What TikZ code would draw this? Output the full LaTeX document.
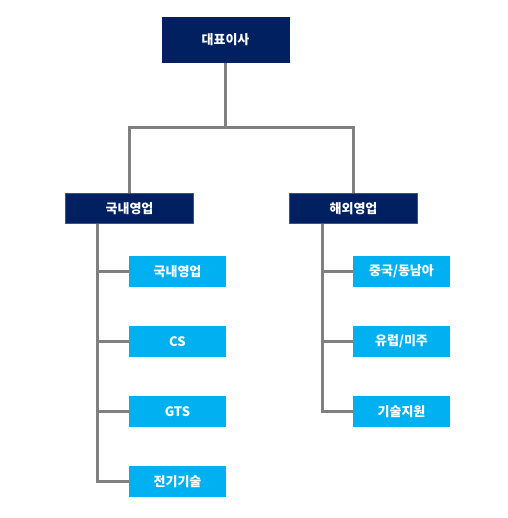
\documentclass[tikz,border=0pt]{standalone}
\usepackage{fontspec}
\setmainfont{Noto Sans CJK KR}
\usepackage{tikz}

\definecolor{navy}{HTML}{002060}
\definecolor{skyblue}{HTML}{00B0F0}
\definecolor{edgeblue}{HTML}{2F5597}
\definecolor{linegray}{HTML}{808080}

\tikzset{
  top/.style={fill=navy, text=white, minimum width=128pt, minimum height=46pt, inner sep=0pt, font=\bfseries\fontsize{13}{15}\selectfont},
  dept/.style={fill=navy, draw=edgeblue, line width=1.2pt, text=white, minimum width=128pt, minimum height=30pt, inner sep=0pt, font=\bfseries\fontsize{13}{15}\selectfont},
  team/.style={fill=skyblue, text=white, minimum width=97pt, minimum height=31pt, inner sep=0pt, font=\bfseries\fontsize{13}{15}\selectfont},
  link/.style={linegray, line width=3pt}
}

\begin{document}
\begin{tikzpicture}[x=1pt, y=-1pt]
  \useasboundingbox (0,0) rectangle (507,518);

  \coordinate (BAR) at (226, 128);
  \coordinate (DT) at (97, 224);
  \coordinate (OT) at (322, 224);

  \node (CEO) at (225.5, 40) [top] {대표이사};
  \node (D) at (129.5, 208.5) [dept] {국내영업};
  \node (O) at (353.5, 208.5) [dept] {해외영업};

  \node (D1) at (177.5, 271.5) [team] {국내영업};
  \node (D2) at (177.5, 341.5) [team] {CS};
  \node (D3) at (177.5, 411.5) [team] {GTS};
  \node (D4) at (177.5, 481.5) [team] {전기기술};

  \node (O1) at (401.5, 271.5) [team] {중국/동남아};
  \node (O2) at (401.5, 341.5) [team] {유럽/미주};
  \node (O3) at (401.5, 411.5) [team] {기술지원};

  \draw[link] (CEO.south) -- (CEO.south |- BAR);
  \draw[link] (CEO.south |- BAR) -| (D.north);
  \draw[link] (CEO.south |- BAR) -| (O.north);

  \draw[link] (DT) |- (D1.west);
  \draw[link] (DT) |- (D2.west);
  \draw[link] (DT) |- (D3.west);
  \draw[link] (DT) |- (D4.west);

  \draw[link] (OT) |- (O1.west);
  \draw[link] (OT) |- (O2.west);
  \draw[link] (OT) |- (O3.west);
\end{tikzpicture}
\end{document}
